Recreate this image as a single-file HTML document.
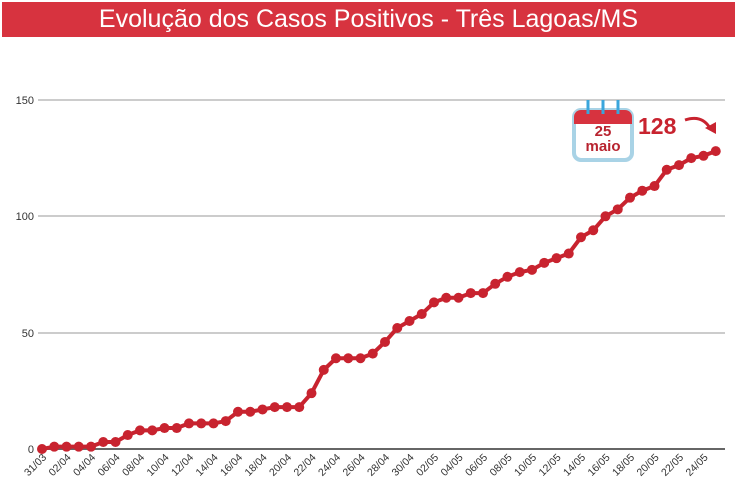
<!DOCTYPE html>
<html><head><meta charset="utf-8"><style>
body{margin:0;width:737px;height:483px;background:#fff;overflow:hidden;font-family:"Liberation Sans",sans-serif}
.t{position:absolute;left:2px;top:2px;width:733px;height:35px;background:#d7333f;color:#fff;font-size:25px;text-align:center;line-height:35px}
</style></head><body>
<div class="t">Evolução dos Casos Positivos - Três Lagoas/MS</div>
<svg width="737" height="483" style="position:absolute;left:0;top:0">
<g stroke="#bbb" stroke-width="1.5">
<line x1="38" y1="100" x2="725" y2="100"/><line x1="38" y1="216" x2="725" y2="216"/><line x1="38" y1="333" x2="725" y2="333"/>
</g>
<line x1="38" y1="449" x2="725" y2="449" stroke="#666" stroke-width="2"/>
<g font-size="11" fill="#333" text-anchor="end">
<text x="34" y="104">150</text><text x="34" y="220">100</text><text x="34" y="337">50</text><text x="34" y="453">0</text>
</g>
<g id="lbl" font-size="10.5" fill="#333" text-anchor="end"></g>
<polyline id="ln" fill="none" stroke="#c8232f" stroke-width="4" stroke-linejoin="round"/>
<g id="dots" fill="#c8232f"></g>
<!-- calendar -->
<rect x="574" y="110" width="58" height="50" rx="7" fill="#fff" stroke="#a9d3e6" stroke-width="4"/>
<path d="M574 124 v-7 a7 7 0 0 1 7 -7 h44 a7 7 0 0 1 7 7 v7 z" fill="#d7333f"/>
<g stroke="#3aa6dc" stroke-width="3"><line x1="588" y1="100" x2="588" y2="114"/><line x1="603" y1="100" x2="603" y2="114"/><line x1="618" y1="100" x2="618" y2="114"/></g>
<text x="603" y="136" font-size="15" font-weight="bold" fill="#b8232f" text-anchor="middle">25</text>
<text x="603" y="151" font-size="15" font-weight="bold" fill="#b8232f" text-anchor="middle">maio</text>
<text x="638" y="134" font-size="23" font-weight="bold" fill="#c8232f">128</text>
<path d="M685 120 q18 -6 26 10" fill="none" stroke="#c8232f" stroke-width="3"/>
<path d="M705 128 l11 6 l0 -12 z" fill="#c8232f"/>
</svg>
<script>
var v=[0,1,1,1,1,3,3,6,8,8,9,9,11,11,11,12,16,16,17,18,18,18,24,34,39,39,39,41,46,52,55,58,63,65,65,67,67,71,74,76,77,80,82,84,91,94,100,103,108,111,113,120,122,125,126,128];
var lab=["31/03","02/04","04/04","06/04","08/04","10/04","12/04","14/04","16/04","18/04","20/04","22/04","24/04","26/04","28/04","30/04","02/05","04/05","06/05","08/05","10/05","12/05","14/05","16/05","18/05","20/05","22/05","24/05"];
var ns="http://www.w3.org/2000/svg",pts=[],d=document.getElementById("dots"),l=document.getElementById("lbl");
v.forEach(function(y,i){var x=42+i*12.25,yy=449-y*2.327;pts.push(x+","+yy);
var c=document.createElementNS(ns,"circle");c.setAttribute("cx",x);c.setAttribute("cy",yy);c.setAttribute("r",5);d.appendChild(c);
if(i%2==0){var t=document.createElementNS(ns,"text");t.setAttribute("transform","translate("+(x+5)+",458) rotate(-45)");t.textContent=lab[i/2];l.appendChild(t);}});
document.getElementById("ln").setAttribute("points",pts.join(" "));
</script>
</body></html>
